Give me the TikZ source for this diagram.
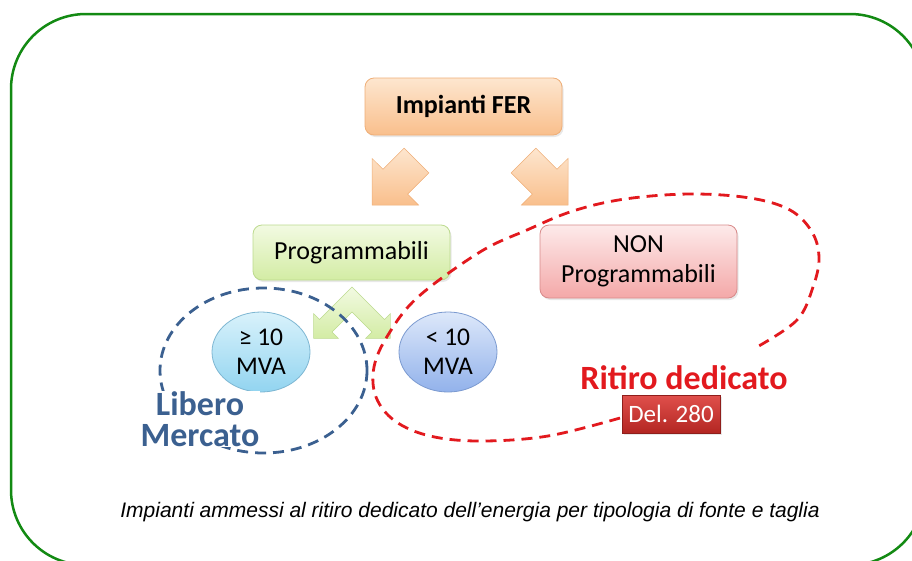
\documentclass[tikz,border=0pt]{standalone}
\usepackage{fontspec}
\setmainfont{Carlito}
\newfontfamily\captionfont{Liberation Sans}
\usetikzlibrary{shapes.geometric, shadows}

\definecolor{frameGreen}{HTML}{138A13}
\definecolor{ferTop}{HTML}{FDE6CF}
\definecolor{ferBot}{HTML}{F9BF8C}
\definecolor{ferLine}{HTML}{EFAE77}
\definecolor{progTop}{HTML}{F2FAE2}
\definecolor{progBot}{HTML}{D3ECA4}
\definecolor{progLine}{HTML}{BCDA8E}
\definecolor{nonTop}{HTML}{FDEAEA}
\definecolor{nonBot}{HTML}{F4A8A8}
\definecolor{nonLine}{HTML}{D88A8A}
\definecolor{geTop}{HTML}{D9F2FB}
\definecolor{geBot}{HTML}{92D4F0}
\definecolor{geLine}{HTML}{7DB6D2}
\definecolor{ltTop}{HTML}{DDE8FA}
\definecolor{ltBot}{HTML}{92B2EB}
\definecolor{ltLine}{HTML}{7B9AD0}
\definecolor{delTop}{HTML}{E0504C}
\definecolor{delBot}{HTML}{B32622}
\definecolor{ritiroRed}{HTML}{E2191E}
\definecolor{liberoBlue}{HTML}{3B6090}

\begin{document}
\begin{tikzpicture}[
			x=1pt, y=-1pt,
			every node/.style={align=center, font=\fontsize{26}{30}\selectfont},
			box/.style={draw, rectangle, rounded corners=9pt, minimum width=197pt, line width=0.8pt,
				drop shadow={opacity=0.18, shadow xshift=1.5pt, shadow yshift=-2pt}},
			bubble/.style={ellipse, draw, minimum width=98pt, minimum height=80pt, inner sep=0pt, line width=0.8pt,
				font=\fontsize{25.5}{29}\selectfont},
			blockarrow/.style={top color=ferTop, bottom color=ferBot, draw=ferLine, line width=0.5pt, line join=miter},
			zone/.style={line width=2.8pt, dash pattern=on 11pt off 7pt},
			label/.style={font=\fontsize{34}{30.5}\selectfont\bfseries}
			]
			
			\useasboundingbox (0,0) rectangle (912,560);
			\clip (0,0) rectangle (912,560);
			
			% Frame
			\draw [frameGreen, line width=2.5pt, rounded corners=75pt] (11,14) rectangle (925,565);
			
			% Nodes
			\node (fer) [box, top color=ferTop, bottom color=ferBot, draw=ferLine, minimum height=57pt, font=\fontsize{26}{30}\selectfont\bfseries] at (463.5,106.5) {Impianti FER};
			\node (prog) [box, top color=progTop, bottom color=progBot, draw=progLine, minimum height=55pt] at (351.5,252.5) {Programmabili};
			\node (nonprog) [box, top color=nonTop, bottom color=nonBot, draw=nonLine, minimum height=73pt] at (638.5,261.5) {NON\\Programmabili};
			\node (ge) [bubble, top color=geTop, bottom color=geBot, draw=geLine] at (261,352) {≥ 10\\MVA};
			\node (lt) [bubble, top color=ltTop, bottom color=ltBot, draw=ltLine] at (448,352) {< 10\\MVA};
			
			% Arrows
			\shadedraw [blockarrow] (372,205) -- (372,158.4) -- (383,169.3) -- (404.2,148.1) -- (428.9,172.9) -- (407.7,194.1) -- (418.6,205) -- cycle;
			\shadedraw [blockarrow] (568,205) -- (568,158.4) -- (557,169.3) -- (535.8,148.1) -- (511.1,172.9) -- (532.3,194.1) -- (521.4,205) -- cycle;
			\shadedraw [top color=progTop, bottom color=progBot, draw=progLine, line width=0.5pt, line join=miter]
				(352,287) -- (319.5,319.5) -- (313.6,313.6) -- (313.6,338.4) -- (338.4,338.4) -- (332,332) -- (352,312)
				-- (372,332) -- (365.6,338.4) -- (390.4,338.4) -- (390.4,313.6) -- (384.5,319.5) -- cycle;
			
			% Zones
			\draw [zone, liberoBlue] (263.5,370.5) ellipse [x radius=103.5, y radius=82.5];
			\draw [zone, ritiroRed] plot [smooth, tension=0.6] coordinates {
				(620,418) (548,436) (480,441) (430,436) (395,421) (376,397) (374,367) (388,335) (418,297)
				(480,252) (527,230) (573,211) (625,199) (690,194) (750,198) (790,210) (812,232) (819,258)
				(813,287) (797,320) (757,347)};
			
			% Labels
			\node (libero) [label, liberoBlue, fill=white, inner sep=1pt] at (200,419) {Libero\\Mercato};
			\node (ritiro) [label, ritiroRed] at (684,378) {Ritiro dedicato};
			\node (del) [box, minimum width=98pt, minimum height=38pt, rounded corners=0pt, inner sep=0pt,
				top color=delTop, bottom color=delBot, draw=delBot!80!black, text=white,
				font=\fontsize{25}{29}\selectfont] at (671,414) {Del. 280};
			\node (caption) [font=\captionfont\itshape\fontsize{21}{24}\selectfont] at (470,512)
				{Impianti ammessi al ritiro dedicato dell’energia per tipologia di fonte e taglia};
			
		\end{tikzpicture}
\end{document}
